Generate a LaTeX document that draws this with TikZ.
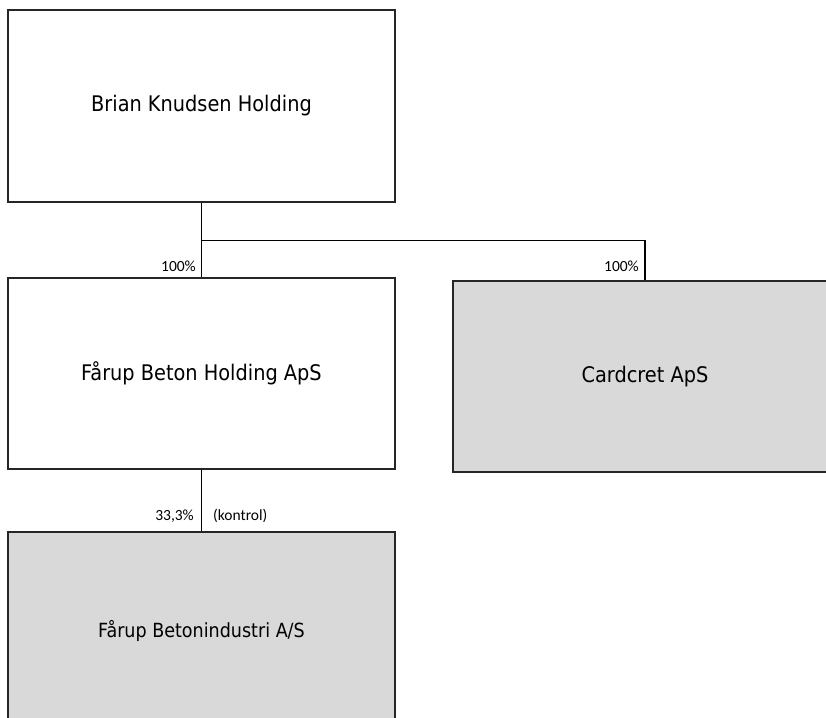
\documentclass[tikz,border=0pt]{standalone}
\usepackage{fontspec}
\setmainfont{DejaVu Sans Condensed}
\newfontfamily\lblfont{Carlito}
\begin{document}
\begin{tikzpicture}[x=1pt,y=-1pt,
  box/.style={draw=black!85,line width=1.1pt,rectangle,inner sep=0pt,font=\fontsize{21.5}{25}\selectfont},
  grey/.style={fill={rgb,255:red,217;green,217;blue,217}},
  conn/.style={draw=black,line width=1.1pt},
  pct/.style={inner sep=0pt,font=\lblfont\fontsize{15.5}{18}\selectfont}]
\path[use as bounding box,clip] (0,0) rectangle (826,717);
\fill[white] (0,0) rectangle (826,717);
\node[box,minimum width=387pt,minimum height=192pt] (b1) at (201.5,106) {Brian Knudsen Holding};
\node[box,minimum width=387pt,minimum height=191pt] (b2) at (201.5,373.5) {Fårup Beton Holding ApS};
\node[box,grey,minimum width=384pt,minimum height=191pt] (b3) at (645,376.5) {Cardcret ApS};
\node[box,grey,minimum width=387pt,minimum height=198pt,font=\fontsize{19.5}{23}\selectfont] (b4) at (201.5,631) {Fårup Betonindustri A/S};
\draw[conn] (b1.south) -- (b2.north);
\draw[conn] (b1.south) -- ++(0,38) coordinate (j) -| (b3.north);
\draw[conn] (b2.south) -- (b4.north);
\node[pct,anchor=base east] (p1) at (196,271) {100\%};
\node[pct,anchor=base east] (p2) at (639,271) {100\%};
\node[pct,anchor=base east] (p3) at (194,520) {33,3\%};
\node[pct,anchor=base west] (k) at (213,520) {(kontrol)};
\end{tikzpicture}
\end{document}
